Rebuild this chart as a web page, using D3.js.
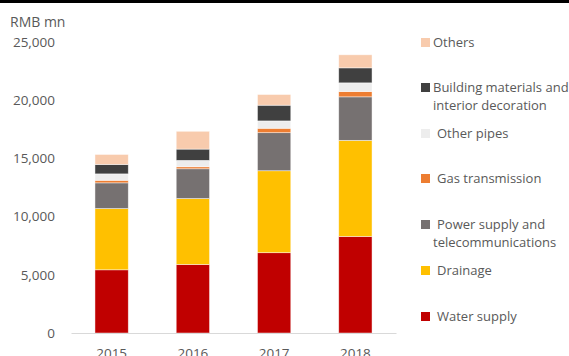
<!DOCTYPE html>
<html>
<head>
<meta charset="utf-8">
<script src="https://cdn.jsdelivr.net/npm/d3@7"></script>
<style>
  html, body { margin: 0; padding: 0; background: #fff; }
  svg { display: block; font-family: "Open Sans", "Liberation Sans", sans-serif; }
</style>
</head>
<body>
<svg id="chart" width="569" height="356"></svg>
<script>
// Pipe market size by application, RMB mn
const years = ["2015", "2016", "2017", "2018"];

const waterSupply   = [5430, 5890, 6900, 8300];
const drainage      = [5260, 5660, 7040, 8250];
const powerTelecom  = [2210, 2560, 3270, 3740];
const gasTransmission = [220, 170, 380, 460];
const otherPipes    = [550, 550, 630, 740];
const buildingInterior = [810, 970, 1350, 1290];
const others        = [860, 1530, 920, 1120];

const yTicks = [0, 5000, 10000, 15000, 20000, 25000];

// stacking order, bottom to top
const seriesKeys = ["Water supply", "Drainage", "Power supply and telecommunications",
  "Gas transmission", "Other pipes", "Building materials and interior decoration", "Others"];
const seriesValues = [waterSupply, drainage, powerTelecom, gasTransmission, otherPipes, buildingInterior, others];
const seriesColors = ["#C00000", "#FFC000", "#767171", "#ED7D31", "#EDEDED", "#404040", "#F8CBAD"];

const rows = years.map((y, i) => {
  const r = { year: y };
  seriesKeys.forEach((k, j) => { r[k] = seriesValues[j][i]; });
  return r;
});

const svg = d3.select("#chart");
const textColor = "#595959";

// thin black band along the top edge
svg.append("rect").attr("x", 0).attr("y", 0).attr("width", 569).attr("height", 3).attr("fill", "#000");

const x = d3.scaleBand().domain(years).range([71, 396]).paddingInner(0.59).paddingOuter(0.295);
const y = d3.scaleLinear().domain([0, 25000]).range([333, 42]);

const stack = d3.stack().keys(seriesKeys)(rows);

svg.append("g").selectAll("g")
  .data(stack)
  .join("g")
  .attr("fill", (d, i) => seriesColors[i])
  .selectAll("rect")
  .data(d => d)
  .join("rect")
  .attr("x", d => x(d.data.year))
  .attr("width", x.bandwidth())
  .attr("y", d => y(d[1]))
  .attr("height", d => y(d[0]) - y(d[1]))
  .attr("stroke", "#fff")
  .attr("stroke-opacity", 0.6)
  .attr("stroke-width", 0.75);

// y axis labels (no axis line)
const yAxis = svg.append("g").attr("transform", "translate(55,0)")
  .call(d3.axisLeft(y).tickValues(yTicks).tickSize(0).tickPadding(0).tickFormat(d3.format(",")));
yAxis.select(".domain").remove();
yAxis.selectAll("text").attr("fill", textColor).attr("font-size", 13.5).attr("font-family", "Open Sans");

// x axis baseline and year labels (running into the bottom edge)
const xAxis = svg.append("g").attr("transform", "translate(0,333)")
  .call(d3.axisBottom(x).tickSize(0).tickPadding(15));
xAxis.select(".domain").attr("stroke", "#D9D9D9").attr("stroke-width", 1.2);
xAxis.selectAll("text").attr("fill", textColor).attr("font-size", 13.5).attr("font-family", "Open Sans");

// unit label
svg.append("text").attr("x", 10).attr("y", 27).attr("fill", textColor)
  .attr("font-size", 14).text("RMB mn");

// legend, top to bottom
const legendItems = [
  { i: 6, sy: 38, lines: [["Others", 433, 42]] },
  { i: 5, sy: 83, lines: [["Building materials and", 433, 87], ["interior decoration", 433, 105]] },
  { i: 4, sy: 129, lines: [["Other pipes", 437, 133]] },
  { i: 3, sy: 174, lines: [["Gas transmission", 437, 178]] },
  { i: 2, sy: 220, lines: [["Power supply and", 437, 224], ["telecommunications", 433, 242]] },
  { i: 1, sy: 266, lines: [["Drainage", 437, 270]] },
  { i: 0, sy: 312, lines: [["Water supply", 437, 316]] }
];
const legend = svg.append("g");
legendItems.forEach(it => {
  legend.append("rect").attr("x", 421).attr("y", it.sy).attr("width", 9).attr("height", 9)
    .attr("fill", seriesColors[it.i]);
  it.lines.forEach(([t, lx, ly]) => {
    legend.append("text").attr("x", lx).attr("y", ly).attr("dy", "0.35em")
      .attr("fill", textColor).attr("font-size", 13).text(t);
  });
});
</script>
</body>
</html>
